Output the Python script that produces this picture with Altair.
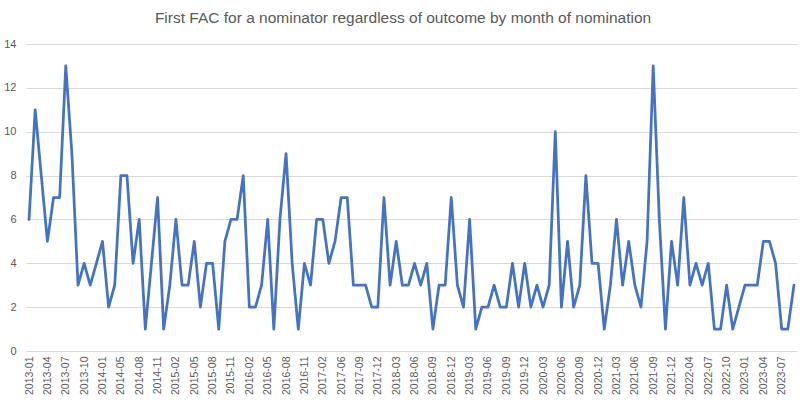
import altair as alt
import pandas as pd

# Months with a nomination (three calendar months absent in the source axis)
missing_months = ["2014-03", "2017-04", "2022-02"]
months = []
for yr in range(2013, 2024):
    for mo in range(1, 13):
        lab = f"{yr}-{mo:02d}"
        if lab in missing_months:
            continue
        if yr == 2023 and mo > 9:
            continue
        months.append(lab)

counts = [
    6, 11, 8, 5, 7, 7, 13, 9, 3, 4, 3, 4,
    5, 2, 3, 8, 8, 4, 6, 1, 4, 7, 1, 3,
    6, 3, 3, 5, 2, 4, 4, 1, 5, 6, 6, 8,
    2, 2, 3, 6, 1, 6, 9, 4, 1, 4, 3, 6,
    6, 4, 5, 7, 7, 3, 3, 3, 2, 2, 7, 3,
    5, 3, 3, 4, 3, 4, 1, 3, 3, 7, 3, 2,
    6, 1, 2, 2, 3, 2, 2, 4, 2, 4, 2, 3,
    2, 3, 10, 2, 5, 2, 3, 8, 4, 4, 1, 3,
    6, 3, 5, 3, 2, 5, 13, 6, 1, 5, 3, 7,
    3, 4, 3, 4, 1, 1, 3, 1, 2, 3, 3, 3,
    5, 5, 4, 1, 1, 3,
]

tick_labels = months[::3]
y_ticks = [0, 2, 4, 6, 8, 10, 12, 14]
title_text = "First FAC for a nominator regardless of outcome by month of nomination"

df = pd.DataFrame({"month": months, "count": counts})

FONT = "Liberation Sans"
GREY = "#595959"

line = alt.Chart(df).mark_line(
    color="#4472C4", strokeWidth=2.75, strokeJoin="round", strokeCap="round"
).encode(
    x=alt.X(
        "month:O",
        sort=months,
        scale=alt.Scale(type="point", padding=0.5),
        axis=alt.Axis(
            title=None,
            values=tick_labels,
            labelAngle=-90,
            labelPadding=5,
            labelFontSize=10.5,
            labelFont=FONT,
            labelColor=GREY,
            ticks=False,
            domain=False,
            grid=False,
            labelOverlap=False,
        ),
    ),
    y=alt.Y(
        "count:Q",
        scale=alt.Scale(domain=[0, 14], nice=False),
        axis=alt.Axis(
            title=None,
            values=y_ticks,
            labelPadding=10,
            labelFontSize=11,
            labelFont=FONT,
            labelColor=GREY,
            ticks=False,
            domain=False,
            grid=True,
            gridColor="#d9d9d9",
            gridWidth=1,
        ),
    ),
)

title = alt.Chart(alt.Data(values=[{"t": title_text}])).mark_text(
    font=FONT, fontSize=15.5, color=GREY, baseline="middle", align="center"
).encode(
    text="t:N",
    x=alt.value(377),
    y=alt.value(-26),
)

chart = alt.layer(line, title).properties(
    width=771,
    height=307,
    padding={"left": 26, "top": 44, "right": 8, "bottom": 60},
    autosize="none",
    background="white",
).configure_view(stroke=None)

chart.save("out.html", embed_options={"renderer": "svg", "actions": False})
